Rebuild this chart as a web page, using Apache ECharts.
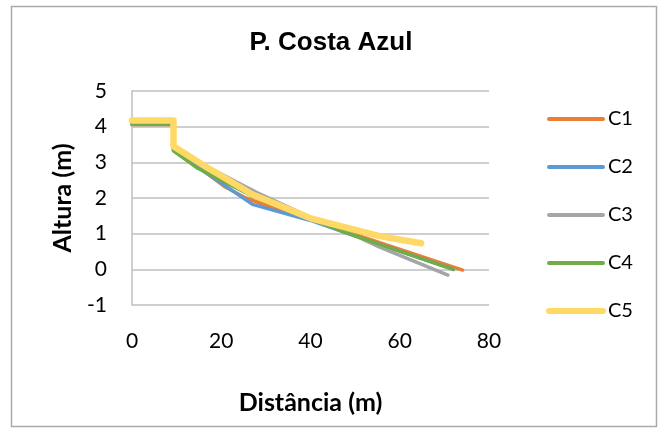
<!DOCTYPE html>
<html>
<head>
<meta charset="utf-8">
<script src="https://cdn.jsdelivr.net/npm/echarts@6/dist/echarts.min.js"></script>
<style>
  html, body { margin: 0; padding: 0; background: #fff; }
  #chart { width: 662px; height: 428px; }
</style>
</head>
<body>
<div id="chart"></div>
<script>
// Beach profile "P. Costa Azul": distance (m) vs height (m) for five cross-sections
const seriesNames = ['C1', 'C2', 'C3', 'C4', 'C5'];

const c1Dist = [0, 9.3, 9.3, 15, 21, 25.5, 30, 40, 48, 57.7, 74.1];
const c1Alt  = [4.06, 4.06, 3.35, 2.85, 2.3, 2.0, 1.8, 1.4, 1.06, 0.66, -0.02];

const c2Dist = [0, 9.3, 9.3, 15, 20, 27, 40, 48, 56, 72];
const c2Alt  = [4.07, 4.07, 3.33, 2.85, 2.42, 1.82, 1.37, 1.02, 0.68, 0.0];

const c3Dist = [0, 9.3, 9.3, 16, 28, 40, 48, 55.5, 70.8];
const c3Alt  = [4.06, 4.06, 3.38, 2.93, 2.15, 1.46, 1.06, 0.62, -0.16];

const c4Dist = [0, 9.3, 9.3, 14.5, 27, 40, 48, 56, 72];
const c4Alt  = [4.07, 4.07, 3.32, 2.85, 2.05, 1.42, 1.02, 0.68, 0.0];

const c5Dist = [0, 9.3, 9.3, 16, 27, 40, 55.5, 64.8];
const c5Alt  = [4.17, 4.17, 3.45, 2.92, 2.1, 1.43, 0.93, 0.73];

const xTicks = [0, 20, 40, 60, 80];
const yTicks = [-1, 0, 1, 2, 3, 4, 5];

const colors = ['#ED7D31', '#5B9BD5', '#A5A5A5', '#70AD47', '#FFD966'];
const widths = [3.5, 3.5, 3.5, 3.5, 6.5];
const legendWidths = [4, 4, 4, 4, 6];

const pairs = (xs, ys) => xs.map((x, i) => [x, ys[i]]);
const profiles = [
  pairs(c1Dist, c1Alt),
  pairs(c2Dist, c2Alt),
  pairs(c3Dist, c3Alt),
  pairs(c4Dist, c4Alt),
  pairs(c5Dist, c5Alt)
];

const gridColor = '#BFBFBF';
const labelFont = 'Lato, "Open Sans", sans-serif';

const chart = echarts.init(document.getElementById('chart'), null, { renderer: 'canvas' });

chart.setOption({
  animation: false,
  backgroundColor: '#ffffff',
  title: {
    text: 'P. Costa Azul',
    left: 'center',
    top: 30,
    padding: 0,
    textStyle: {
      fontFamily: '"Liberation Sans", Arial, sans-serif',
      fontWeight: 'bold',
      fontSize: 26,
      color: '#000'
    }
  },
  legend: {
    orient: 'vertical',
    left: 546,
    top: 109,
    padding: 0,
    itemWidth: 54,
    itemHeight: 20,
    itemGap: 28,
    // hide the marker dot so only the line segment shows
    itemStyle: { opacity: 0 },
    data: seriesNames.map((name, i) => ({
      name: name,
      lineStyle: { width: legendWidths[i], cap: 'round' }
    })),
    textStyle: { fontFamily: labelFont, fontSize: 20, color: '#000', lineHeight: 20 }
  },
  grid: { left: 132, right: 173, top: 91, bottom: 123, containLabel: false },
  xAxis: {
    type: 'value',
    min: xTicks[0],
    max: xTicks[xTicks.length - 1],
    interval: 20,
    name: 'Distância (m)',
    nameLocation: 'middle',
    nameGap: 85,
    nameTextStyle: { fontFamily: labelFont, fontWeight: 'bold', fontSize: 25, color: '#000' },
    axisLine: { show: false },
    axisTick: { show: false },
    splitLine: { show: false },
    axisLabel: { fontFamily: labelFont, fontSize: 21, color: '#000', margin: 26 }
  },
  yAxis: {
    type: 'value',
    min: yTicks[0],
    max: yTicks[yTicks.length - 1],
    interval: 1,
    name: 'Altura (m)',
    nameLocation: 'middle',
    nameGap: 57,
    nameTextStyle: { fontFamily: labelFont, fontWeight: 'bold', fontSize: 25, color: '#000' },
    axisLine: { show: true, onZero: false, lineStyle: { color: gridColor, width: 1.5 } },
    axisTick: { show: false },
    splitLine: { show: true, lineStyle: { color: gridColor, width: 1.5 } },
    axisLabel: { fontFamily: labelFont, fontSize: 21, color: '#000', margin: 25 }
  },
  graphic: [{
    type: 'rect',
    shape: { x: 11.5, y: 6.5, width: 645, height: 420 },
    style: { fill: 'none', stroke: '#AAAAAA', lineWidth: 1.5 },
    silent: true
  }],
  series: profiles.map((data, i) => ({
    name: seriesNames[i],
    type: 'line',
    data: data,
    symbol: 'none',
    color: colors[i],
    lineStyle: { color: colors[i], width: widths[i], cap: 'round', join: 'round' }
  }))
});
</script>
</body>
</html>
